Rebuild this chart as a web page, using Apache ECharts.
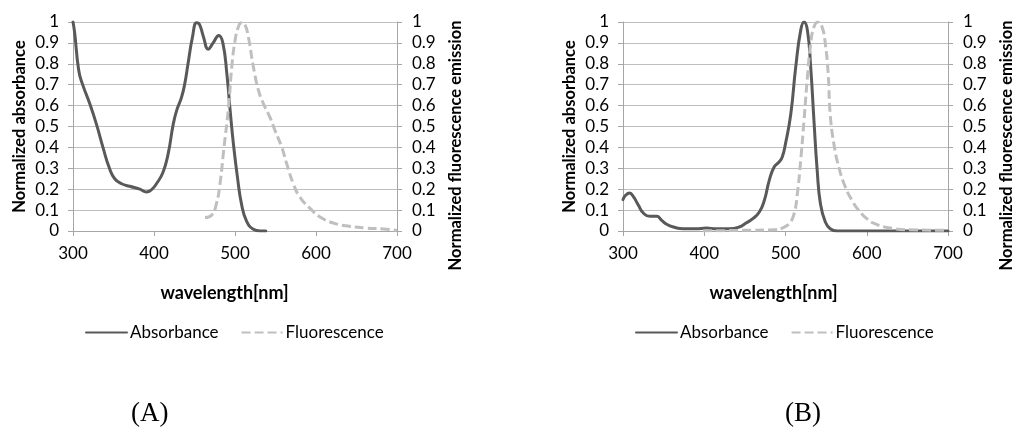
<!DOCTYPE html>
<html>
<head>
<meta charset="utf-8">
<script src="https://cdn.jsdelivr.net/npm/echarts@6/dist/echarts.min.js"></script>
<style>
html,body{margin:0;padding:0;background:#fff;}
#chart{width:1016px;height:427px;}
</style>
</head>
<body>
<div id="chart"></div>
<script>
// ---- data ----
var xTicks = [300, 400, 500, 600, 700];
var yTicks = [0, 0.1, 0.2, 0.3, 0.4, 0.5, 0.6, 0.7, 0.8, 0.9, 1];

// Panel A
var absA_x = [300, 302, 307, 311.5, 320.6, 329, 337, 345, 351.5, 360, 370, 382.5, 390.7, 397, 403, 411, 417.5, 423.7, 428, 434, 438, 442, 447.6, 452.6, 456, 461, 467, 473, 480, 485, 490, 494, 498, 503, 508, 514, 522.7, 531, 538];
var absA_y = [1.0, 0.95, 0.77, 0.705, 0.61, 0.51, 0.40, 0.30, 0.25, 0.226, 0.214, 0.20, 0.187, 0.198, 0.226, 0.28, 0.37, 0.51, 0.577, 0.64, 0.705, 0.80, 0.93, 0.997, 0.99, 0.93, 0.87, 0.90, 0.936, 0.90, 0.75, 0.577, 0.418, 0.258, 0.13, 0.05, 0.008, 0.0, 0.0];
var fluA_x = [463, 471, 477, 481.5, 486, 492, 496, 500, 504, 508, 512, 516.5, 522.7, 529, 535, 543, 549.5, 557.8, 564, 572, 580, 593, 605, 621.7, 642, 663, 683.5, 700];
var fluA_y = [0.064, 0.075, 0.13, 0.226, 0.386, 0.593, 0.785, 0.91, 0.975, 0.997, 0.99, 0.928, 0.785, 0.673, 0.61, 0.545, 0.48, 0.40, 0.32, 0.226, 0.163, 0.107, 0.067, 0.038, 0.022, 0.014, 0.01, 0.003];

// Panel B
var absB_x = [300, 303, 308, 313, 319, 325, 333, 341.5, 347.6, 353.8, 362, 374, 390, 402.6, 415, 431, 443, 451.5, 459.7, 467.8, 474, 480, 486, 492, 496, 500, 506.5, 512.6, 518.7, 522.8, 527, 531, 535, 539, 543, 549, 555, 563.5, 600, 650, 700];
var absB_y = [0.15, 0.17, 0.182, 0.163, 0.123, 0.086, 0.07, 0.07, 0.051, 0.032, 0.019, 0.011, 0.011, 0.014, 0.011, 0.011, 0.019, 0.038, 0.059, 0.091, 0.147, 0.242, 0.306, 0.33, 0.354, 0.418, 0.56, 0.785, 0.96, 1.0, 0.96, 0.785, 0.53, 0.29, 0.13, 0.043, 0.011, 0.0, 0.0, 0.0, 0.0];
var fluB_x = [398.6, 447, 488, 496, 504.5, 510.6, 514.6, 518.7, 522.8, 527, 531, 535, 540, 545, 549, 552.5, 555, 559.5, 565.6, 573.7, 581.8, 590, 600, 610, 626.6, 651, 700];
var fluB_y = [0.0, 0.003, 0.006, 0.014, 0.035, 0.083, 0.179, 0.338, 0.53, 0.737, 0.896, 0.976, 1.0, 0.976, 0.896, 0.753, 0.56, 0.418, 0.306, 0.21, 0.147, 0.099, 0.059, 0.035, 0.016, 0.006, 0.003];

var seriesNames = ['Absorbance', 'Fluorescence'];
var xTitle = 'wavelength[nm]';
var yLeftTitle = 'Normalized absorbance';
var yRightTitle = 'Normalized fluorescence emission';
var panelLabels = ['(A)', '(B)'];

// ---- build ----
function pairs(xs, ys) { return xs.map(function (x, i) { return [x, ys[i]]; }); }

var FONT = 'Lato';
var AXIS_COLOR = '#a6a6a6';
var GRID_COLOR = '#bfbfbf';
var TEXT_COLOR = '#000';

var grids = [
  { left: 73, top: 22, width: 324, height: 209 },
  { left: 623, top: 22, width: 327, height: 209 }
];

function xAxisFor(gi, padRight) {
  return {
    type: 'value', gridIndex: gi, min: xTicks[0], max: xTicks[xTicks.length - 1], interval: 100,
    axisLine: { show: true, onZero: false, lineStyle: { color: AXIS_COLOR, width: 1 } },
    axisTick: { show: true, length: 5, lineStyle: { color: AXIS_COLOR } },
    splitLine: { show: false },
    axisLabel: { margin: 14, color: TEXT_COLOR, fontFamily: FONT, fontSize: 17 },
    name: xTitle, nameLocation: 'middle', nameGap: 53,
    nameTextStyle: { fontFamily: FONT, fontWeight: 'bold', fontSize: 18, color: TEXT_COLOR, padding: [0, padRight, 0, 0] }
  };
}
function yAxisFor(gi, pos) {
  var left = pos === 'left';
  return {
    type: 'value', gridIndex: gi, position: pos, min: 0, max: 1, interval: 0.1,
    axisLine: { show: true, lineStyle: { color: AXIS_COLOR, width: 1 } },
    axisTick: { show: true, length: 5, lineStyle: { color: AXIS_COLOR } },
    splitLine: { show: left, lineStyle: { color: GRID_COLOR, width: 1 } },
    axisLabel: { margin: left ? 14 : 15, color: TEXT_COLOR, fontFamily: FONT, fontSize: 17,
      formatter: function (v) { return String(Math.round(v * 10) / 10); } },
    name: left ? yLeftTitle : yRightTitle, nameLocation: 'middle', nameRotate: 90,
    nameGap: left ? 45 : 50,
    nameTextStyle: { fontFamily: FONT, fontWeight: 'bold', fontSize: 16.5, color: TEXT_COLOR,
      padding: left ? 0 : [0, 38, 0, 0] }
  };
}

var xAxes = [xAxisFor(0, 21), xAxisFor(1, 24)];
var yAxes = [yAxisFor(0, 'left'), yAxisFor(0, 'right'), yAxisFor(1, 'left'), yAxisFor(1, 'right')];

function absSeries(xi, yi, data) {
  return { name: seriesNames[0], type: 'line', xAxisIndex: xi, yAxisIndex: yi, data: data,
    showSymbol: false, symbol: 'none', smooth: 0.5,
    lineStyle: { color: '#595959', width: 3, join: 'round', cap: 'round' }, itemStyle: { color: '#595959' } };
}
function fluSeries(xi, yi, data) {
  return { name: seriesNames[1], type: 'line', xAxisIndex: xi, yAxisIndex: yi, data: data,
    showSymbol: false, symbol: 'none', smooth: 0.5,
    lineStyle: { color: '#bfbfbf', width: 3, type: [9, 4], join: 'round' }, itemStyle: { color: '#bfbfbf' } };
}

var series = [
  absSeries(0, 0, pairs(absA_x, absA_y)),
  fluSeries(0, 1, pairs(fluA_x, fluA_y)),
  absSeries(1, 2, pairs(absB_x, absB_y)),
  fluSeries(1, 3, pairs(fluB_x, fluB_y))
];

function legendAt(left) {
  return { left: left, top: 319, itemWidth: 41, itemHeight: 14, itemGap: 22,
    data: seriesNames, selectedMode: false,
    itemStyle: { opacity: 0, borderWidth: 0 },
    textStyle: { fontFamily: FONT, fontSize: 17, color: TEXT_COLOR, padding: [0, 0, 0, -2] } };
}

var chart = echarts.init(document.getElementById('chart'), null, { renderer: 'canvas' });
chart.setOption({
  animation: false,
  backgroundColor: '#fff',
  grid: grids,
  xAxis: xAxes,
  yAxis: yAxes,
  legend: [legendAt(80), legendAt(630)],
  series: series,
  graphic: [
    { type: 'text', left: 131, top: 400, style: { text: panelLabels[0], font: '27px "Liberation Serif"', fill: '#000' } },
    { type: 'text', left: 785, top: 400, style: { text: panelLabels[1], font: '27px "Liberation Serif"', fill: '#000' } }
  ]
});
</script>
</body>
</html>
